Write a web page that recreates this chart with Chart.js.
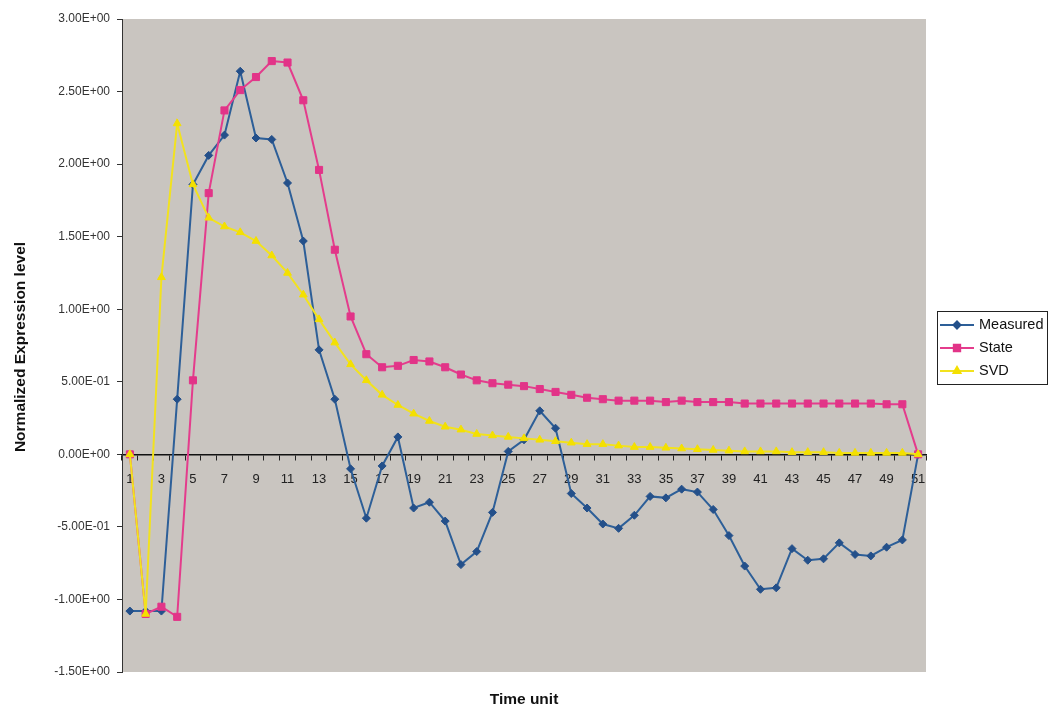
<!DOCTYPE html>
<html>
<head>
<meta charset="utf-8">
<title>Normalized Expression level</title>
<script src="https://cdn.jsdelivr.net/npm/chart.js@4.4.1/dist/chart.umd.min.js"></script>
<style>
  html, body { margin: 0; padding: 0; background: #ffffff; }
  #wrap { width: 1050px; height: 712px; }
</style>
</head>
<body>
<div id="wrap"><canvas id="chart" width="1050" height="712"></canvas></div>
<script>
// Time units on the category axis
const timeUnits = ['1','2','3','4','5','6','7','8','9','10','11','12','13','14','15','16','17','18','19','20',
  '21','22','23','24','25','26','27','28','29','30','31','32','33','34','35','36','37','38','39','40',
  '41','42','43','44','45','46','47','48','49','50','51'];

// Normalized expression level per time unit
const measured = [-1.08, -1.08, -1.08, 0.38, 1.86, 2.06, 2.20, 2.64, 2.18, 2.17,
  1.87, 1.47, 0.72, 0.38, -0.10, -0.44, -0.08, 0.12, -0.37, -0.33,
  -0.46, -0.76, -0.67, -0.40, 0.02, 0.10, 0.30, 0.18, -0.27, -0.37,
  -0.48, -0.51, -0.42, -0.29, -0.30, -0.24, -0.26, -0.38, -0.56, -0.77,
  -0.93, -0.92, -0.65, -0.73, -0.72, -0.61, -0.69, -0.70, -0.64, -0.59, 0.00];

const state = [0.00, -1.10, -1.05, -1.12, 0.51, 1.80, 2.37, 2.51, 2.60, 2.71,
  2.70, 2.44, 1.96, 1.41, 0.95, 0.69, 0.60, 0.61, 0.65, 0.64,
  0.60, 0.55, 0.51, 0.49, 0.48, 0.47, 0.45, 0.43, 0.41, 0.39,
  0.38, 0.37, 0.37, 0.37, 0.36, 0.37, 0.36, 0.36, 0.36, 0.35,
  0.35, 0.35, 0.35, 0.35, 0.35, 0.35, 0.35, 0.35, 0.345, 0.345, 0.00];

const svd = [0.00, -1.10, 1.22, 2.28, 1.86, 1.63, 1.57, 1.53, 1.47, 1.37,
  1.25, 1.10, 0.93, 0.77, 0.62, 0.51, 0.41, 0.34, 0.28, 0.23,
  0.19, 0.17, 0.14, 0.13, 0.12, 0.11, 0.10, 0.09, 0.08, 0.07,
  0.07, 0.06, 0.05, 0.05, 0.045, 0.04, 0.035, 0.03, 0.025, 0.02,
  0.02, 0.02, 0.015, 0.015, 0.015, 0.01, 0.01, 0.01, 0.01, 0.01, 0.00];

// Value axis ticks and their labels
const yTickValues = [-1.5, -1.0, -0.5, 0.0, 0.5, 1.0, 1.5, 2.0, 2.5, 3.0];
const yTickLabels = ['-1.50E+00', '-1.00E+00', '-5.00E-01', '0.00E+00', '5.00E-01',
  '1.00E+00', '1.50E+00', '2.00E+00', '2.50E+00', '3.00E+00'];

const xTitle = 'Time unit';
const yTitle = 'Normalized Expression level';

const tickFont = 'Liberation Sans, Arial, sans-serif';
const titleFont = '"Liberation Sans Narrow", "Liberation Sans", Arial, sans-serif';

// Grey plot area, axis titles and a boxed legend at the right
const decorations = {
  id: 'decorations',
  beforeDraw(chart) {
    const { ctx, chartArea: a } = chart;
    ctx.save();
    ctx.fillStyle = '#c9c5c0';
    ctx.fillRect(a.left, a.top, a.right - a.left, a.bottom - a.top);
    ctx.restore();
  },
  afterDraw(chart) {
    const { ctx, chartArea: a } = chart;
    ctx.save();
    ctx.fillStyle = '#111';
    ctx.font = 'bold 15.5px ' + titleFont;
    ctx.textAlign = 'center';
    ctx.textBaseline = 'middle';
    ctx.fillText(xTitle, (a.left + a.right) / 2, 700);
    ctx.translate(21, 347);
    ctx.rotate(-Math.PI / 2);
    ctx.fillText(yTitle, 0, 0);
    ctx.restore();

    // legend box
    const bx = 937, by = 311, bw = 111, bh = 74;
    ctx.save();
    ctx.fillStyle = '#ffffff';
    ctx.fillRect(bx, by, bw, bh);
    ctx.strokeStyle = '#222';
    ctx.lineWidth = 1;
    ctx.strokeRect(bx + 0.5, by + 0.5, bw - 1, bh - 1);
    const rowY = [325, 348, 371];
    chart.data.datasets.forEach((ds, i) => {
      const y = rowY[i];
      ctx.strokeStyle = ds.borderColor;
      ctx.lineWidth = 2;
      ctx.beginPath();
      ctx.moveTo(940, y);
      ctx.lineTo(974, y);
      ctx.stroke();
      ctx.fillStyle = ds.pointBackgroundColor;
      ctx.strokeStyle = ds.pointBorderColor;
      Chart.helpers.drawPoint(ctx, {
        pointStyle: ds.pointStyle,
        radius: ds.pointRadius - 0.5,
        borderWidth: 1
      }, 957, y);
      ctx.fillStyle = '#111';
      ctx.font = '14.5px ' + tickFont;
      ctx.textAlign = 'left';
      ctx.textBaseline = 'middle';
      ctx.fillText(ds.label, 979, y);
    });
    ctx.restore();
  }
};

function series(label, data, color, markerColor, style, radius, order) {
  return {
    label, data, order,
    borderColor: color,
    borderWidth: 2,
    backgroundColor: markerColor,
    pointBackgroundColor: markerColor,
    pointBorderColor: markerColor,
    pointStyle: style,
    pointRadius: radius,
    pointBorderWidth: 1,
    tension: 0,
    fill: false
  };
}

new Chart(document.getElementById('chart'), {
  type: 'line',
  data: {
    labels: timeUnits,
    datasets: [
      series('Measured', measured, '#2d5f98', '#24508a', 'rectRot', 4, 2),
      series('State', state, '#e43c8c', '#e23488', 'rect', 5, 1),
      series('SVD', svd, '#f2e21e', '#f4e000', 'triangle', 4.5, 0)
    ]
  },
  options: {
    responsive: false,
    animation: false,
    devicePixelRatio: 1,
    layout: { padding: { left: 0, right: 124, top: 19, bottom: 40 } },
    plugins: {
      legend: { display: false },
      tooltip: { enabled: false }
    },
    scales: {
      x: {
        type: 'category',
        offset: true,
        position: { y: 0 },
        grid: { offset: true, drawOnChartArea: false, drawTicks: true, tickLength: 5, color: '#222', lineWidth: 1 },
        border: { display: true, color: '#111', width: 1.5 },
        ticks: {
          autoSkip: false,
          maxRotation: 0,
          minRotation: 0,
          padding: 12,
          color: '#222',
          font: { family: tickFont, size: 13 },
          callback: (v, i) => (i % 2 === 0 ? timeUnits[i] : '')
        }
      },
      y: {
        type: 'linear',
        min: -1.5,
        max: 3,
        afterBuildTicks: (s) => { s.ticks = yTickValues.map(v => ({ value: v })); },
        afterFit: (s) => { s.width = 122; },
        grid: { drawOnChartArea: false, drawTicks: true, tickLength: 5, color: '#333' },
        border: { display: true, color: '#333', width: 1 },
        ticks: {
          padding: 7,
          color: '#333',
          font: { family: tickFont, size: 12 },
          callback: (v) => yTickLabels[yTickValues.indexOf(v)]
        }
      }
    }
  },
  plugins: [decorations]
});
</script>
</body>
</html>
